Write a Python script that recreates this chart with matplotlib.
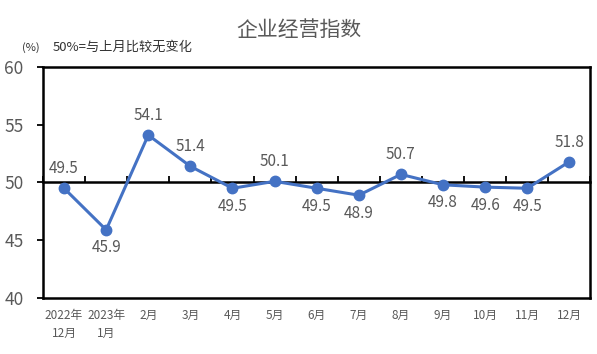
import matplotlib
matplotlib.use('Agg')
import matplotlib.pyplot as plt
import numpy as np

plt.rcParams['font.family'] = ['Noto Sans CJK SC', 'DejaVu Sans']

# data
months = ['2022年\n12月', '2023年\n1月', '2月', '3月', '4月', '5月', '6月',
          '7月', '8月', '9月', '10月', '11月', '12月']
values = [49.5, 45.9, 54.1, 51.4, 49.5, 50.1, 49.5, 48.9, 50.7, 49.8, 49.6, 49.5, 51.8]
label_above = [True, False, True, True, False, True, False, False, True, False, False, False, True]
y_ticks = [40, 45, 50, 55, 60]

gray = '#595959'
blue = '#4472C4'

fig = plt.figure(figsize=(5.97, 3.54), dpi=100)
ax = fig.add_axes([0.072, 0.158, 0.917, 0.653])

x = np.arange(len(months))
ax.plot(x, values, color=blue, linewidth=2.2, marker='o', markersize=7.5, zorder=3)

for xi, v, up in zip(x, values, label_above):
    dy = 14 if up else -13
    ax.annotate(f'{v:.1f}', (xi, v), xytext=(0, dy), textcoords='offset points',
                ha='center', va='center', fontsize=11, color=gray, fontweight='light')

ax.set_xlim(-0.5, len(months) - 0.5)
ax.set_ylim(40, 60)
ax.set_yticks(y_ticks)
ax.set_xticks(x)
ax.set_xticklabels(months, fontsize=8.5, color=gray, linespacing=1.5, fontweight='light')
ax.tick_params(axis='x', length=0, pad=8)
ax.tick_params(axis='y', direction='out', length=4, width=1.3, labelsize=12.5,
               labelcolor=gray, pad=10)
for lab in ax.get_yticklabels():
    lab.set_fontweight('light')
for s in ax.spines.values():
    s.set_linewidth(1.8)
    s.set_color('black')

# 50 line with ticks between categories
sec = ax.secondary_xaxis(0.5)
sec.set_xticks(np.arange(-0.5, len(months), 1.0))
sec.tick_params(axis='x', direction='out', length=4, width=1.3, labeltop=False,
                labelbottom=False, top=True, bottom=False)
sec.spines['top'].set_linewidth(1.8)
sec.spines['bottom'].set_linewidth(1.8)

fig.text(0.5, 0.915, '企业经营指数', ha='center', va='center', fontsize=15, color=gray,
         fontweight='light')
fig.text(0.052, 0.867, '(%)', ha='center', va='center', fontsize=8, color='#333333')
fig.text(0.089, 0.867, '50%=与上月比较无变化', ha='left', va='center', fontsize=9.5,
         color='#333333')

fig.savefig('out.png', dpi=100)
